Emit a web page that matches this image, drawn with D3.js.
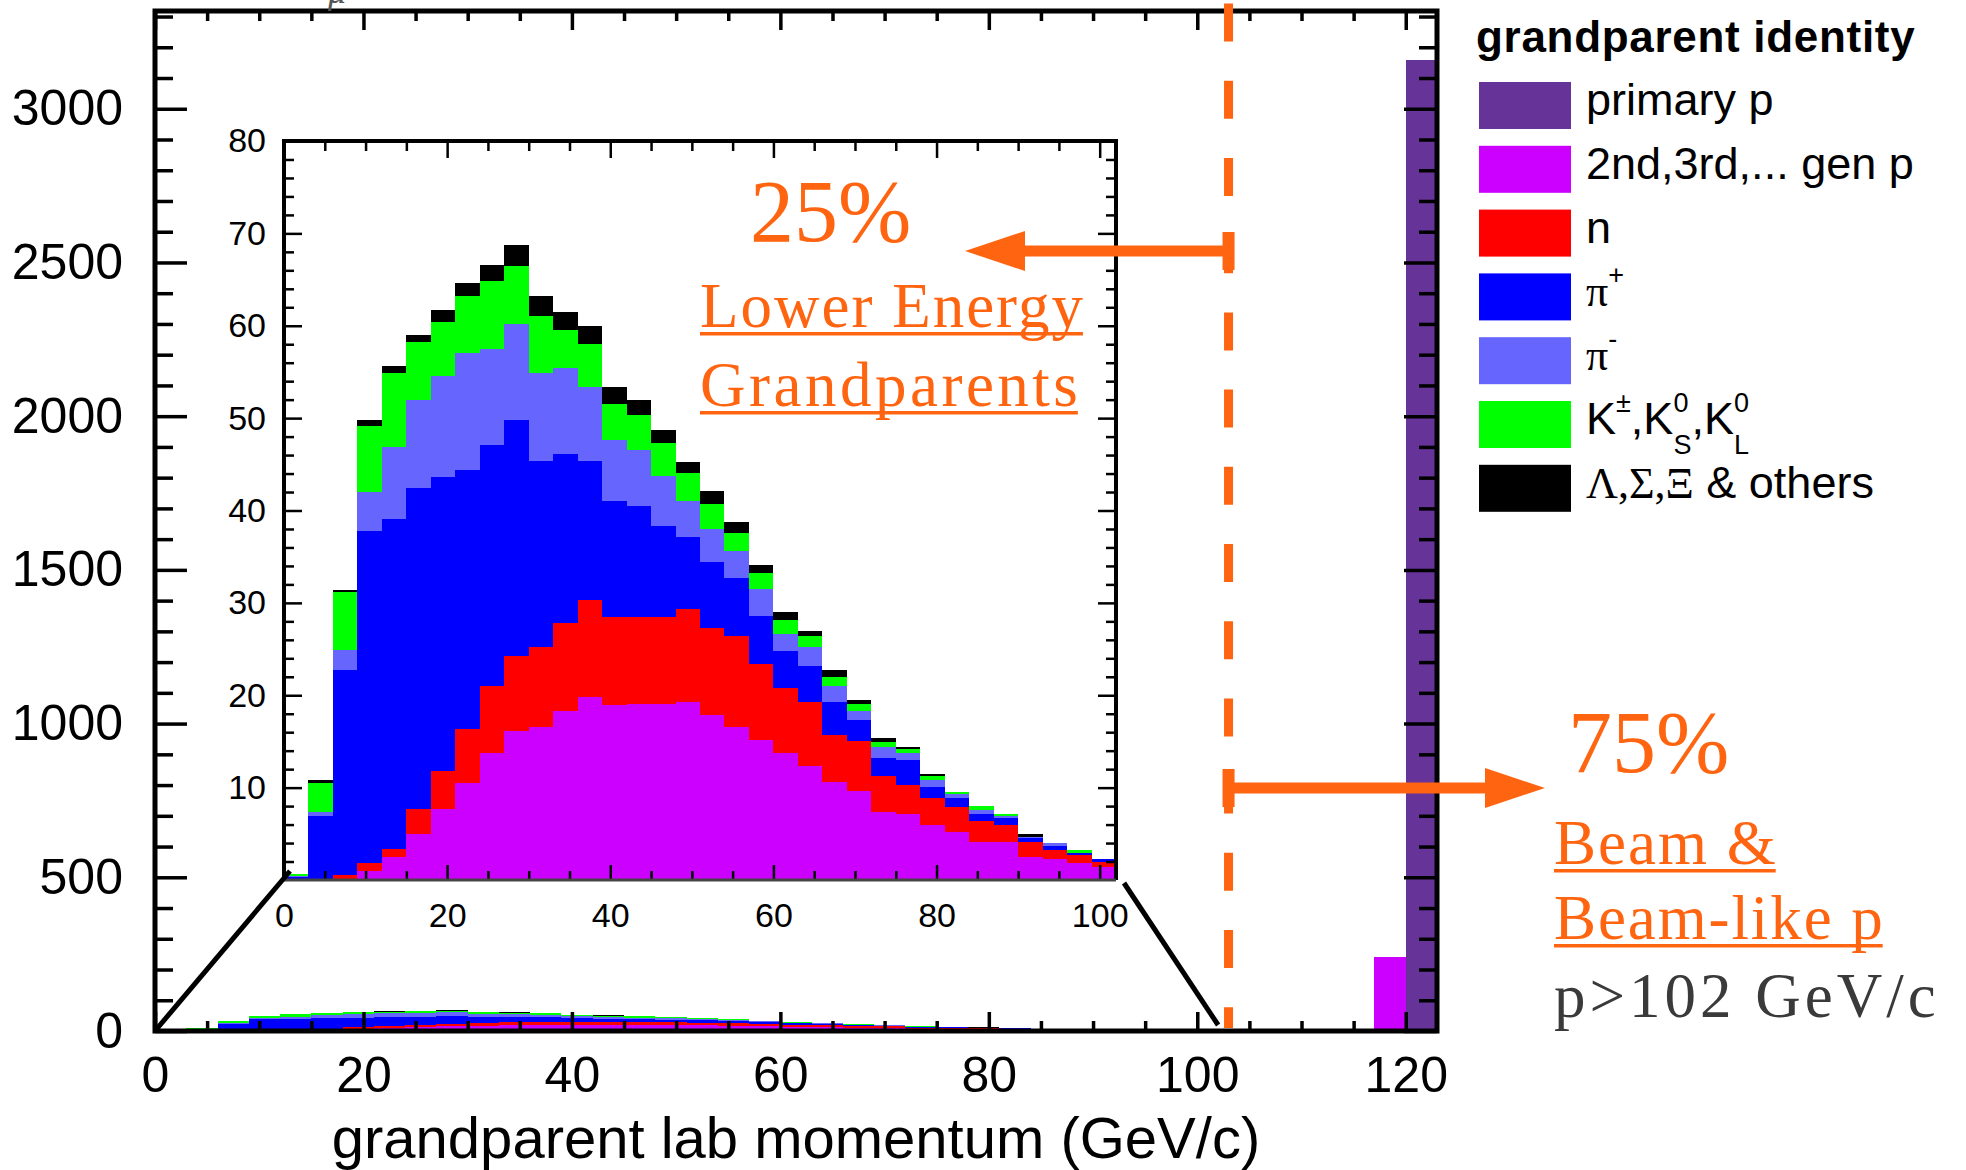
<!DOCTYPE html>
<html>
<head>
<meta charset="utf-8">
<title>grandparent lab momentum</title>
<script src="https://d3js.org/d3.v7.min.js"></script>
<style>
  html, body { margin: 0; background: #fff; }
  svg { display: block; }
</style>
</head>
<body>
<script>
// lower edge of each 3 GeV/c bin
var binLow = [0, 3, 6, 9, 12, 15, 18, 21, 24, 27, 30, 33, 36, 39, 42, 45, 48, 51, 54, 57,
              60, 63, 66, 69, 72, 75, 78, 81, 84, 87, 90, 93, 96, 99, 102, 105, 108, 111, 114, 117, 120];

// counts per bin, one array per grandparent type (stacked bottom to top)
var primaryP = [0,0,0,0,0,0,0,0,0,0, 0,0,0,0,0,0,0,0,0,0, 0,0,0,0,0,0,0,0,0,0, 0,0,0,0, 0,0,0,0,0,0,3160];
var genP     = [0,0,0,0.97,2.5,4.95,7.7,10.5,13.7,16.1, 16.6,18.3,19.8,18.9,19.0,19.1,19.3,17.9,16.6,15.2,
                13.7,12.3,10.6,9.6,7.4,7.15,6.0,5.2,4.15,4.15, 2.5,2.3,1.8,1.4, 0,0,0,0,0,240,0];
var neutron  = [0,0,0.5,0.83,0.9,2.75,4.1,5.9,7.35,8.1, 8.6,9.5,10.5,9.6,9.5,9.4,10.0,9.4,9.8,8.2,
                7.1,7.0,5.1,5.4,3.9,3.15,2.85,2.65,2.25,1.85, 1.65,0.95,0.9,0.6, 0,0,0,0,0,0,0];
var piPlus   = [0.3,6.9,22.25,36.0,35.7,34.7,31.8,28.0,26.05,25.6, 20.2,18.3,15.1,12.5,12.0,9.8,7.8,7.1,6.3,5.2,
                4.0,3.9,3.6,2.3,1.95,2.7,1.25,1.0,0.75,0.7, 0.35,0.45,0.25,0.25, 0,0,0,0,0,0,0];
var piMinus  = [0.1,0.5,2.15,4.2,7.8,9.6,11.0,12.7,10.4,10.4, 9.5,9.3,8.0,6.6,6.1,5.4,3.9,3.6,2.9,2.9,
                1.8,2.0,1.7,1.0,1.15,0.7,0.7,0.45,0.45,0.2, 0.2,0.3,0,0, 0,0,0,0,0,0,0];
var kaons    = [0.3,3.1,6.3,7.2,8.0,6.25,5.8,6.1,7.3,6.3, 6.2,4.1,4.6,3.9,3.7,3.6,3.1,2.7,2.0,1.7,
                1.5,1.2,1.0,0.8,0.5,0.5,0.5,0.2,0.45,0.2, 0,0,0.25,0, 0,0,0,0,0,0,0];
var others   = [0,0.3,0.2,0.6,0.7,0.8,1.3,1.4,1.8,2.2, 2.1,2.0,2.0,1.9,1.7,1.45,1.2,1.4,1.2,0.9,
                0.9,0.6,0.7,0.4,0.45,0.2,0.2,0,0,0, 0.25,0,0,0, 0,0,0,0,0,0,0];

var seriesKeys   = ["primary", "gen", "n", "piplus", "piminus", "kaon", "other"];
var seriesColors = ["#663399", "#cc00ff", "#ff0000", "#0000ff", "#6666ff", "#00ff00", "#000000"];

var mainXTicks  = [0, 20, 40, 60, 80, 100, 120];
var mainYTicks  = [0, 500, 1000, 1500, 2000, 2500, 3000];
var insetXTicks = [0, 20, 40, 60, 80, 100];
var insetYTicks = [10, 20, 30, 40, 50, 60, 70, 80];

var binWidth = 3;
var cutMomentum = 103;

var rows = binLow.map(function(x, i) {
  return { x: x, primary: primaryP[i], gen: genP[i], n: neutron[i], piplus: piPlus[i],
           piminus: piMinus[i], kaon: kaons[i], other: others[i] };
});
var stacked = d3.stack().keys(seriesKeys)(rows);
var maxTotal = d3.max(rows, function(r) { return d3.sum(seriesKeys, function(k) { return r[k]; }); });

var W = 1966, H = 1170;
var svg = d3.select("body").append("svg").attr("width", W).attr("height", H)
  .style("font-family", "'Liberation Sans', Arial, sans-serif");

// ---------- main plot ----------
var xM = d3.scaleLinear().domain([0, 123]).range([155, 1437]);
var yM = d3.scaleLinear().domain([0, 1.05 * maxTotal]).range([1031, 11]);

svg.append("defs").append("clipPath").attr("id", "mainClip")
  .append("rect").attr("x", xM(0)).attr("y", yM.range()[1])
  .attr("width", xM(123) - xM(0)).attr("height", yM(0) - yM.range()[1]);

function drawBars(g, xs, ys, xmax) {
  g.selectAll("g.layer").data(stacked).enter().append("g")
    .attr("class", "layer")
    .attr("fill", function(d, i) { return seriesColors[i]; })
    .selectAll("rect")
    .data(function(d) { return d.filter(function(p) { return p[1] - p[0] > 0 && p.data.x < xmax; }); })
    .enter().append("rect")
    .attr("shape-rendering", "crispEdges")
    .attr("x", function(p) { return xs(p.data.x); })
    .attr("width", function(p) { return xs(p.data.x + binWidth) - xs(p.data.x); })
    .attr("y", function(p) { return ys(p[1]); })
    .attr("height", function(p) { return ys(p[0]) - ys(p[1]); });
}

drawBars(svg.append("g").attr("clip-path", "url(#mainClip)"), xM, yM, 123);

function styleAxis(g, size, width) {
  g.select(".domain").remove();
  g.selectAll("line").attr("stroke", "#000").attr("stroke-width", width);
  g.selectAll("text").attr("fill", "#000").style("font-size", size + "px")
    .style("font-family", "'Liberation Sans', Arial, sans-serif");
}

var plain = d3.format("d");
var yMinor = d3.range(0, 3301, 100).filter(function(v) { return v % 500 !== 0; });
var xMinor = d3.range(0, 124, 5).filter(function(v) { return v % 20 !== 0; });

// left
svg.append("g").attr("transform", "translate(" + xM(0) + ",0)")
  .call(d3.axisLeft(yM).tickValues(mainYTicks).tickFormat(plain).tickSize(-32).tickPadding(32))
  .call(styleAxis, 50, 3.5);
svg.append("g").attr("transform", "translate(" + xM(0) + ",0)")
  .call(d3.axisLeft(yM).tickValues(yMinor).tickSize(-18).tickFormat(""))
  .call(styleAxis, 50, 3.5);
// right
svg.append("g").attr("transform", "translate(" + xM(123) + ",0)")
  .call(d3.axisRight(yM).tickValues(mainYTicks).tickSize(-33).tickFormat(""))
  .call(styleAxis, 50, 3.5);
svg.append("g").attr("transform", "translate(" + xM(123) + ",0)")
  .call(d3.axisRight(yM).tickValues(yMinor).tickSize(-18).tickFormat(""))
  .call(styleAxis, 50, 3.5);
// bottom
svg.append("g").attr("transform", "translate(0," + yM(0) + ")")
  .call(d3.axisBottom(xM).tickValues(mainXTicks).tickFormat(plain).tickSize(-19).tickPadding(25))
  .call(styleAxis, 50, 3.5);
svg.append("g").attr("transform", "translate(0," + yM(0) + ")")
  .call(d3.axisBottom(xM).tickValues(xMinor).tickSize(-10).tickFormat(""))
  .call(styleAxis, 50, 3.5);
// top
svg.append("g").attr("transform", "translate(0," + yM.range()[1] + ")")
  .call(d3.axisTop(xM).tickValues(mainXTicks).tickSize(-19).tickFormat(""))
  .call(styleAxis, 50, 3.5);
svg.append("g").attr("transform", "translate(0," + yM.range()[1] + ")")
  .call(d3.axisTop(xM).tickValues(xMinor).tickSize(-10).tickFormat(""))
  .call(styleAxis, 50, 3.5);

svg.append("rect").attr("x", xM(0)).attr("y", yM.range()[1])
  .attr("width", xM(123) - xM(0)).attr("height", yM(0) - yM.range()[1])
  .attr("fill", "none").attr("stroke", "#000").attr("stroke-width", 5);

svg.append("text").attr("x", (xM(0) + xM(123)) / 2).attr("y", 1158)
  .attr("text-anchor", "middle").style("font-size", "58px")
  .text("grandparent lab momentum (GeV/c)");

// clipped glyph at the very top
svg.append("text").attr("x", 328).attr("y", 3)
  .style("font-family", "'Liberation Serif', serif").style("font-style", "italic")
  .style("font-size", "36px").attr("fill", "#555").text("μ");

// ---------- inset ----------
var xI = d3.scaleLinear().domain([0, 102]).range([284, 1116]);
var yI = d3.scaleLinear().domain([0, 80]).range([880, 141]);

svg.append("rect").attr("x", xI(0)).attr("y", yI(80))
  .attr("width", xI(102) - xI(0)).attr("height", yI(0) - yI(80)).attr("fill", "#fff");

drawBars(svg.append("g"), xI, yI, 102);

var iyMinor = d3.range(0, 81, 2).filter(function(v) { return v % 10 !== 0; });
var ixMinor = d3.range(0, 103, 5).filter(function(v) { return v % 20 !== 0; });

svg.append("g").attr("transform", "translate(" + xI(0) + ",0)")
  .call(d3.axisLeft(yI).tickValues(insetYTicks).tickFormat(plain).tickSize(-18).tickPadding(18))
  .call(styleAxis, 34, 2.5);
svg.append("g").attr("transform", "translate(" + xI(0) + ",0)")
  .call(d3.axisLeft(yI).tickValues(iyMinor).tickSize(-10).tickFormat(""))
  .call(styleAxis, 34, 2.5);
svg.append("g").attr("transform", "translate(" + xI(102) + ",0)")
  .call(d3.axisRight(yI).tickValues(insetYTicks).tickSize(-18).tickFormat(""))
  .call(styleAxis, 34, 2.5);
svg.append("g").attr("transform", "translate(" + xI(102) + ",0)")
  .call(d3.axisRight(yI).tickValues(iyMinor).tickSize(-10).tickFormat(""))
  .call(styleAxis, 34, 2.5);
svg.append("g").attr("transform", "translate(0," + yI(0) + ")")
  .call(d3.axisBottom(xI).tickValues(insetXTicks).tickFormat(plain).tickSize(-15).tickPadding(23))
  .call(styleAxis, 34, 2.5);
svg.append("g").attr("transform", "translate(0," + yI(0) + ")")
  .call(d3.axisBottom(xI).tickValues(ixMinor).tickSize(-9).tickFormat(""))
  .call(styleAxis, 34, 2.5);
svg.append("g").attr("transform", "translate(0," + yI(80) + ")")
  .call(d3.axisTop(xI).tickValues(insetXTicks).tickSize(-17).tickFormat(""))
  .call(styleAxis, 34, 2.5);
svg.append("g").attr("transform", "translate(0," + yI(80) + ")")
  .call(d3.axisTop(xI).tickValues(ixMinor).tickSize(-10).tickFormat(""))
  .call(styleAxis, 34, 2.5);

svg.append("path")
  .attr("d", "M" + xI(0) + "," + yI(0) + "V" + yI(80) + "H" + xI(102) + "V" + yI(0))
  .attr("fill", "none").attr("stroke", "#000").attr("stroke-width", 4);
svg.append("line").attr("x1", xI(0)).attr("x2", xI(102)).attr("y1", yI(0)).attr("y2", yI(0))
  .attr("stroke", "#444").attr("stroke-width", 3);

// zoom connector lines
svg.append("line").attr("x1", xM(0)).attr("y1", yM(0)).attr("x2", xI(0) + 6).attr("y2", yI(0) - 9)
  .attr("stroke", "#000").attr("stroke-width", 5);
svg.append("line").attr("x1", xI(102) + 8).attr("y1", yI(0) + 3).attr("x2", xM(102)).attr("y2", yM(0) - 6)
  .attr("stroke", "#000").attr("stroke-width", 5);

// ---------- legend ----------
var legendEntries = [
  [{t: "primary p"}],
  [{t: "2nd,3rd,... gen p"}],
  [{t: "n"}],
  [{t: "π", serif: true}, {t: "+", sup: true}],
  [{t: "π", serif: true}, {t: "-", sup: true}],
  [{t: "K"}, {t: "±", sup: true}, {t: ",K"}, {t: "0", sup: true}, {t: "S", sub: true},
   {t: ",K"}, {t: "0", sup: true}, {t: "L", sub: true}],
  [{t: "Λ,Σ,Ξ", serif: true}, {t: " & others"}]
];

var legend = svg.append("g");
legend.append("text").attr("x", 1476).attr("y", 52)
  .style("font-size", "44px").style("font-weight", "bold").style("letter-spacing", "0.7px")
  .text("grandparent identity");

legendEntries.forEach(function(segs, i) {
  var top = 82 + i * 63.8;
  legend.append("rect").attr("x", 1479).attr("y", top).attr("width", 92).attr("height", 47)
    .attr("fill", seriesColors[i]);
  var txt = legend.append("text").attr("x", 1586).attr("y", top + 33).style("font-size", "45px");
  var shift = 0;
  segs.forEach(function(s) {
    var target = s.sup ? -22 : (s.sub ? 20 : 0);
    var ts = txt.append("tspan").attr("dy", target - shift).text(s.t);
    if (s.sub) ts.attr("dx", -15);
    if (s.sup || s.sub) ts.style("font-size", "27px");
    if (s.serif) ts.style("font-family", "'Liberation Serif', serif").style("font-size", "44px");
    shift = target;
  });
});

// ---------- annotations ----------
var orange = "#ff6410";
var xCut = xM(cutMomentum);

svg.append("line").attr("x1", xCut).attr("x2", xCut).attr("y1", 3.6).attr("y2", yM(0) - 3)
  .attr("stroke", orange).attr("stroke-width", 9).attr("stroke-dasharray", "38 39.2");

function arrow(y, xFrom, xTip, dir) {
  var base = xTip - dir * 60;
  svg.append("line").attr("x1", xFrom).attr("x2", base).attr("y1", y).attr("y2", y)
    .attr("stroke", orange).attr("stroke-width", 11);
  svg.append("path").attr("d", "M" + xTip + "," + y + "L" + base + "," + (y - 20) + "L" + base + "," + (y + 20) + "Z")
    .attr("fill", orange);
  svg.append("rect").attr("x", xFrom - 6).attr("y", y - 19).attr("width", 12).attr("height", 38)
    .attr("fill", orange);
}
arrow(251, xCut, 965, -1);
arrow(788, xCut, 1545, 1);

function note(str, x, y, size, spacing, color, underline) {
  var t = svg.append("text").attr("x", x).attr("y", y)
    .style("font-family", "'Liberation Serif', 'Times New Roman', serif")
    .style("font-size", size + "px").style("letter-spacing", spacing + "px")
    .attr("fill", color).text(str);
  if (underline) {
    var len = t.node().getComputedTextLength();
    svg.append("rect").attr("x", x).attr("y", y + 5).attr("width", len - spacing).attr("height", 3.5)
      .attr("fill", color);
  }
}
note("25%", 750, 241, 88, 0, orange, false);
note("Lower Energy", 700, 327, 63, 2, orange, true);
note("Grandparents", 700, 406, 63, 3.5, orange, true);
note("75%", 1568, 772, 88, 0, orange, false);
note("Beam &", 1554, 864, 63, 2, orange, true);
note("Beam-like p", 1554, 939, 63, 1.9, orange, true);
note("p>102 GeV/c", 1554, 1017, 63, 4, "#3a3a3a", false);
</script>
</body>
</html>
